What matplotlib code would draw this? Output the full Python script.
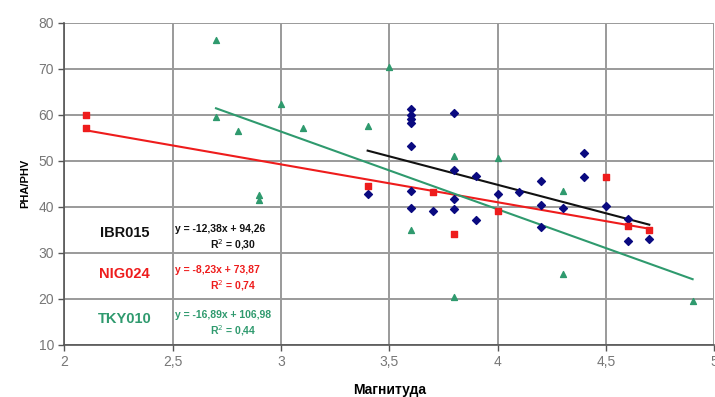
import matplotlib.pyplot as plt
from matplotlib.ticker import FuncFormatter

plt.rcParams["font.family"] = ["Liberation Sans", "DejaVu Sans"]

# IBR015 station (blue diamonds)
ibr_mag = [3.4, 3.6, 3.6, 3.6, 3.6, 3.6, 3.6, 3.6, 3.7, 3.8, 3.8, 3.8, 3.8,
           3.9, 3.9, 4.0, 4.1, 4.2, 4.2, 4.2, 4.3, 4.4, 4.4, 4.5, 4.6, 4.6, 4.7]
ibr_ratio = [42.8, 61.3, 60.0, 59.0, 58.1, 53.1, 43.5, 39.8, 39.0, 60.4, 47.9, 41.6, 39.5,
             46.7, 37.1, 42.7, 43.2, 45.6, 40.3, 35.6, 39.8, 51.6, 46.5, 40.2, 37.4, 32.5, 32.9]

# NIG024 station (red squares)
nig_mag = [2.1, 2.1, 3.4, 3.7, 3.8, 4.0, 4.5, 4.6, 4.7]
nig_ratio = [60.0, 57.0, 44.4, 43.1, 34.0, 39.0, 46.4, 35.8, 34.9]

# TKY010 station (green triangles)
tky_mag = [2.7, 2.7, 2.8, 2.9, 2.9, 3.0, 3.1, 3.4, 3.5, 3.6, 3.8, 3.8, 4.0, 4.3, 4.3, 4.9]
tky_ratio = [76.3, 59.5, 56.5, 42.5, 41.4, 62.4, 57.0, 57.5, 70.4, 34.9, 51.1, 20.3,
             50.5, 43.4, 25.3, 19.5]

# linear trends: slope, intercept, R^2
fits = {
    "IBR015": (-12.38, 94.26, 0.30),
    "NIG024": (-8.23, 73.87, 0.74),
    "TKY010": (-16.89, 106.98, 0.44),
}
colors = {"IBR015": "#111111", "NIG024": "#ee1c1c", "TKY010": "#2f9a6e"}
marker_colors = {"IBR015": "#0a0a80", "NIG024": "#ee1c1c", "TKY010": "#2f9a6e"}

fig = plt.figure(figsize=(7.15, 3.97), dpi=100)
ax = fig.add_axes([0.090, 0.132, 0.909, 0.811])

ax.grid(True, color="#9a9a9a", linewidth=1.4, zorder=0)
ax.set_axisbelow(True)

ax.scatter(ibr_mag, ibr_ratio, marker="D", s=16, color=marker_colors["IBR015"], zorder=3)
ax.scatter(nig_mag, nig_ratio, marker="s", s=18, color=marker_colors["NIG024"], zorder=3)
ax.scatter(tky_mag, tky_ratio, marker="^", s=18, color=marker_colors["TKY010"], zorder=3)

series_x = {"IBR015": ibr_mag, "NIG024": nig_mag, "TKY010": tky_mag}
for name, (k, b, r2) in fits.items():
    x0, x1 = min(series_x[name]), max(series_x[name])
    ax.plot([x0, x1], [k * x0 + b, k * x1 + b], color=colors[name], linewidth=1.5, zorder=2)


def comma(v):
    return f"{v:.2f}".replace(".", ",")


label_y = {"IBR015": 34.2, "NIG024": 25.3, "TKY010": 15.5}
for name, (k, b, r2) in fits.items():
    yl = label_y[name]
    ax.text(2.277, yl, name, color=colors[name], fontsize=10.5, fontweight="bold",
            ha="center", va="center")
    sign = "+" if b >= 0 else "-"
    ax.text(2.512, yl + 1.0, f"y = {comma(k)}x {sign} {comma(abs(b))}", color=colors[name],
            fontsize=7.5, fontweight="bold", ha="left", va="center")
    ax.text(2.78, yl - 2.4, f"R$^2$ = {comma(r2)}", color=colors[name],
            fontsize=7.5, fontweight="bold", ha="center", va="center")

ax.set_xlim(2, 5)
ax.set_ylim(10, 80)
ax.set_xticks([2, 2.5, 3, 3.5, 4, 4.5, 5])
ax.set_yticks(range(10, 81, 10))
ax.xaxis.set_major_formatter(FuncFormatter(lambda v, p: f"{v:g}".replace(".", ",")))
ax.tick_params(axis="both", colors="#555555", labelcolor="#777777", labelsize=10,
               length=4, width=1)

for side in ("top", "right"):
    ax.spines[side].set_visible(False)
for side in ("left", "bottom"):
    ax.spines[side].set_color("#555555")
    ax.spines[side].set_linewidth(1.2)

ax.set_xlabel("Магнитуда", fontsize=10, fontweight="bold", labelpad=10)
ax.set_ylabel("PHA/PHV", fontsize=8, fontweight="bold", labelpad=6)

fig.savefig("out.png", dpi=100)
